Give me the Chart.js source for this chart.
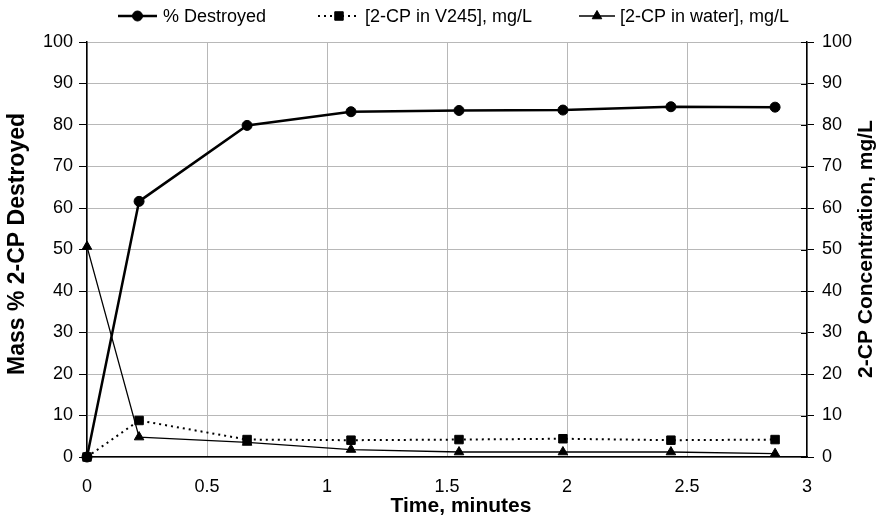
<!DOCTYPE html>
<html>
<head>
<meta charset="utf-8">
<script src="https://cdn.jsdelivr.net/npm/chart.js@4"></script>
<style>
  html, body { margin: 0; padding: 0; background: #fff; }
  #wrap { width: 877px; height: 517px; }
</style>
</head>
<body>
<div id="wrap"><canvas id="destroyChart" width="877" height="517"></canvas></div>
<script>
// time points (minutes)
const timeMin = [0, 0.217, 0.667, 1.1, 1.55, 1.983, 2.433, 2.867];
// % 2-CP destroyed (left axis)
const destroyed = [0, 61.6, 79.9, 83.2, 83.5, 83.6, 84.4, 84.3];
// concentrations, mg/L (right axis)
const v245 = [0, 8.8, 4.2, 4.05, 4.2, 4.4, 4.05, 4.2];
const water = [50.7, 4.8, 3.5, 1.8, 1.2, 1.2, 1.2, 0.8];

const seriesNames = ["% Destroyed", "[2-CP in V245], mg/L", "[2-CP in water], mg/L"];
const xTicks = [0, 0.5, 1, 1.5, 2, 2.5, 3];

const leftTitle = "Mass % 2-CP Destroyed";
const rightTitle = "2-CP Concentration, mg/L";
const xTitle = "Time, minutes";

const FONT = '"Liberation Sans", Arial, sans-serif';

function pairs(xs, ys) {
    return xs.map((x, i) => ({ x: x, y: ys[i] }));
}

// legend, axis titles and the inner tick marks of the right axis
const extras = {
    id: "extras",
    afterDraw(chart) {
        const ctx = chart.ctx;
        const legendSpots = [
            { x0: 118, x1: 157, tx: 163 },
            { x0: 318, x1: 360, tx: 365 },
            { x0: 579, x1: 615, tx: 620 }
        ];
        const ly = 16;

        ctx.save();

        // right axis ticks also poke into the plot
        const r = chart.scales.y2;
        ctx.strokeStyle = "#000";
        ctx.lineWidth = 1;
        r.ticks.forEach(t => {
            const py = Math.round(r.getPixelForValue(t.value)) + 0.5;
            ctx.beginPath();
            ctx.moveTo(r.left - 6, py);
            ctx.lineTo(r.left, py);
            ctx.stroke();
        });

        chart.data.datasets.forEach((ds, i) => {
            const s = legendSpots[i];
            ctx.strokeStyle = "#000";
            ctx.fillStyle = "#000";
            ctx.lineWidth = ds.borderWidth;
            ctx.setLineDash(ds.borderDash || []);
            ctx.beginPath();
            ctx.moveTo(s.x0, ly);
            ctx.lineTo(s.x1, ly);
            ctx.stroke();
            ctx.setLineDash([]);
            ctx.lineWidth = 1;
            Chart.helpers.drawPoint(ctx, {
                pointStyle: ds.pointStyle,
                radius: ds.pointRadius,
                rotation: 0,
                borderWidth: 1
            }, (s.x0 + s.x1) / 2, ly);

            ctx.font = "18px " + FONT;
            ctx.textAlign = "left";
            ctx.textBaseline = "middle";
            ctx.fillText(ds.label, s.tx, ly + 1);
        });

        ctx.textAlign = "center";
        ctx.textBaseline = "middle";

        ctx.font = "bold 23px " + FONT;
        ctx.save();
        ctx.translate(18, 244);
        ctx.rotate(-Math.PI / 2);
        ctx.fillText(leftTitle, 0, 0);
        ctx.restore();

        ctx.font = "bold 21px " + FONT;
        ctx.save();
        ctx.translate(866, 249);
        ctx.rotate(-Math.PI / 2);
        ctx.fillText(rightTitle, 0, 0);
        ctx.restore();

        ctx.fillText(xTitle, 461, 506);
        ctx.restore();
    }
};

new Chart(document.getElementById("destroyChart"), {
    type: "line",
    data: {
        datasets: [
            {
                label: seriesNames[0],
                data: pairs(timeMin, destroyed),
                yAxisID: "y",
                borderColor: "#000",
                backgroundColor: "#000",
                borderWidth: 2.5,
                pointStyle: "circle",
                pointRadius: 5,
                pointBorderWidth: 1,
                tension: 0,
                clip: false
            },
            {
                label: seriesNames[1],
                data: pairs(timeMin, v245),
                yAxisID: "y2",
                borderColor: "#000",
                backgroundColor: "#000",
                borderWidth: 2,
                borderDash: [2, 4],
                pointStyle: "rect",
                pointRadius: 6,
                pointBorderWidth: 1,
                tension: 0,
                clip: false
            },
            {
                label: seriesNames[2],
                data: pairs(timeMin, water),
                yAxisID: "y2",
                borderColor: "#000",
                backgroundColor: "#000",
                borderWidth: 1.3,
                pointStyle: "triangle",
                pointRadius: 5.5,
                pointBorderWidth: 1,
                tension: 0,
                clip: false
            }
        ]
    },
    options: {
        responsive: false,
        animation: false,
        layout: {
            padding: { top: 42, left: 0, right: 0, bottom: 0 }
        },
        plugins: {
            legend: { display: false },
            tooltip: { enabled: false }
        },
        scales: {
            x: {
                type: "linear",
                min: 0,
                max: 3,
                afterBuildTicks: (scale) => {
                    scale.ticks = xTicks.map(v => ({ value: v }));
                },
                afterFit: (scale) => { scale.height = 60; },
                grid: {
                    color: "#b8b8b8",
                    lineWidth: 1,
                    drawTicks: false
                },
                border: { color: "#000", width: 1.5 },
                ticks: {
                    color: "#000",
                    padding: 19,
                    font: { family: FONT, size: 18 },
                    callback: (v) => String(v)
                }
            },
            y: {
                position: "left",
                min: 0,
                max: 100,
                afterFit: (scale) => { scale.width = 87; },
                grid: {
                    color: "#b8b8b8",
                    lineWidth: 1,
                    tickLength: 8,
                    tickColor: "#000"
                },
                border: { color: "#000", width: 1.5 },
                ticks: {
                    stepSize: 10,
                    color: "#000",
                    padding: 6,
                    font: { family: FONT, size: 18 }
                }
            },
            y2: {
                position: "right",
                min: 0,
                max: 100,
                afterFit: (scale) => { scale.width = 70; },
                grid: {
                    drawOnChartArea: false,
                    tickLength: 7,
                    tickColor: "#000"
                },
                border: { color: "#000", width: 1.5 },
                ticks: {
                    stepSize: 10,
                    color: "#000",
                    padding: 8,
                    font: { family: FONT, size: 18 }
                }
            }
        }
    },
    plugins: [extras]
});
</script>
</body>
</html>
